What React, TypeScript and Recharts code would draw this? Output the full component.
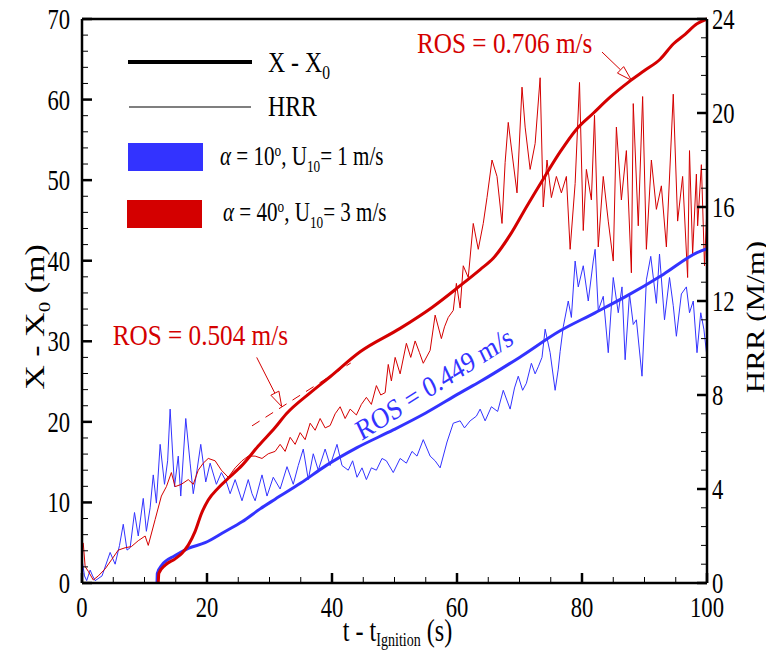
import React from 'react';
import { LineChart, Line, XAxis, YAxis, ReferenceLine, ReferenceDot, Legend } from 'recharts';

const FONT = '"Liberation Serif", "Times New Roman", serif';
const BLUE = '#3333ff';
const RED = '#d40000';
const SX = 0.78; // the reference glyphs are narrow and tall

const W = 766;
const H = 643;
const PLOT = { left: 74, top: 11, right: 699, bottom: 575 };

// axis ticks
const timeTicks = [0, 5, 10, 15, 20, 25, 30, 35, 40, 45, 50, 55, 60, 65, 70, 75, 80, 85, 90, 95, 100];
const distTicks = [0, 2, 4, 6, 8, 10, 12, 14, 16, 18, 20, 22, 24, 26, 28, 30, 32, 34, 36, 38, 40, 42, 44, 46, 48, 50, 52, 54, 56, 58, 60, 62, 64, 66, 68, 70];
const hrrTicks = [0, 0.8, 1.6, 2.4, 3.2, 4, 4.8, 5.6, 6.4, 7.2, 8, 8.8, 9.6, 10.4, 11.2, 12, 12.8, 13.6, 14.4, 15.2, 16, 16.8, 17.6, 18.4, 19.2, 20, 20.8, 21.6, 22.4, 23.2, 24];

type Pt = [number, number];

// front position X - X0 (m), [t, value]
const blueX: Pt[] = [
  [12, 0], [12.05, 1.2], [12.75, 2.2], [14.9, 3.4], [17, 4.3], [19.7, 5.0], [22.9, 6.4], [25.6, 7.6],
  [28.5, 9.2], [30.9, 10.4], [35, 12.4], [39.1, 14.6], [44, 16.8], [49.8, 19.0], [55, 21.1], [60.5, 23.6],
  [63.7, 25.0], [70, 28.0], [76.5, 31.3], [82, 33.5], [87.1, 35.6], [93, 38.3], [98.4, 41.0], [100, 41.5],
];

const redX: Pt[] = [
  [12.2, 0], [12.3, 1.2], [13.3, 2.2], [14.9, 3.0], [16, 3.7], [17, 4.7], [18.1, 6.4], [19.1, 8.6],
  [20.2, 10.3], [21.8, 11.8], [23.4, 13.0], [25.6, 14.6], [28.2, 17.0], [30.9, 19.3], [32.7, 21.0],
  [36.5, 23.6], [39.7, 25.6], [44.5, 28.7], [50.9, 31.6], [56, 34.2], [60.5, 36.9], [63.7, 38.9],
  [65.8, 40.3], [68.5, 43.2], [71.2, 46.8], [74, 50.4], [76.5, 53.5], [79, 56.2], [81.8, 58.3],
  [84.5, 60.3], [87.5, 62.2], [90, 63.6], [92.5, 65.0], [94.6, 66.9], [96.5, 68.1], [98.4, 69.4], [100, 70],
];

// heat release rate HRR (M/m), [t, value]
const blueHrr: Pt[] = [
  [0, 1.0], [0.4, 0.3], [0.75, 0.1], [1.3, 0.55], [1.7, 0.3], [2.1, 0.1], [3.2, 0.3], [4.5, 1.3], [5.3, 0.8],
  [6.0, 1.6], [6.6, 2.5], [7.2, 1.4], [7.7, 1.5], [8.4, 3.0], [9.0, 2.0], [9.8, 3.6], [10.3, 2.2], [10.9, 3.2],
  [11.4, 4.6], [11.9, 3.4], [12.5, 5.9], [13.2, 4.2], [13.7, 5.2], [14.1, 7.4], [14.8, 4.1], [15.4, 5.4],
  [15.8, 3.7], [16.6, 7.0], [17.3, 5.1], [17.8, 3.8], [18.4, 4.8], [19.0, 5.9], [19.8, 4.3], [20.5, 5.1],
  [21.5, 4.2], [22.3, 4.7], [23.1, 4.3], [23.7, 3.8], [24.5, 4.4], [25.6, 3.5], [26.6, 4.4], [27.2, 3.8],
  [27.7, 3.5], [28.8, 4.6], [29.6, 3.7], [30.6, 4.5], [31.7, 4.0], [32.8, 4.95], [33.8, 4.2], [34.6, 5.0],
  [35.4, 5.7], [36.2, 4.4], [37.0, 5.5], [37.8, 4.8], [38.9, 5.7], [39.7, 5.0], [40.8, 5.9], [41.6, 5.0],
  [42.6, 4.8], [43.3, 5.2], [44.0, 4.5], [44.8, 4.9], [45.5, 4.4], [46.3, 4.9], [47.1, 4.8], [48.0, 5.3],
  [48.7, 5.2], [49.8, 4.7], [50.9, 5.3], [51.9, 5.1], [52.8, 5.6], [53.6, 5.4], [54.6, 6.1], [55.7, 5.4],
  [56.5, 5.2], [57.3, 4.9], [58.4, 6.0], [59.4, 6.8], [60.5, 6.9], [61.2, 6.6], [62.1, 6.9], [63.1, 7.1],
  [63.7, 7.4], [64.5, 6.9], [65.5, 7.5], [66.5, 7.3], [67.4, 8.2], [68.5, 7.4], [69.2, 8.3], [69.8, 8.8],
  [70.5, 8.2], [71.1, 8.5], [71.9, 9.35], [72.5, 8.9], [73.0, 9.2], [73.6, 9.6], [74.1, 10.8], [74.9, 9.8],
  [75.7, 8.2], [76.2, 9.1], [76.5, 9.85], [77.0, 10.9], [77.8, 12.0], [78.3, 11.3], [78.9, 13.7], [79.4, 12.6],
  [80.2, 13.5], [81.0, 12.0], [81.8, 13.7], [82.1, 14.2], [82.6, 11.6], [83.4, 12.2], [84.2, 9.8], [85.0, 13.0],
  [85.8, 11.5], [86.4, 12.6], [86.9, 9.5], [87.6, 12.3], [88.2, 11.0], [88.7, 11.2], [89.6, 8.8], [90.3, 12.9],
  [91.0, 13.9], [91.9, 11.9], [92.4, 14.0], [93.2, 11.2], [94.0, 13.0], [94.6, 11.8], [95.1, 10.5], [95.9, 12.3],
  [96.7, 12.6], [97.2, 11.5], [97.8, 12.0], [98.4, 9.8], [99.0, 11.5], [99.5, 10.8], [100, 9.6],
];

const redHrr: Pt[] = [
  [0, 1.7], [0.2, 1.7], [0.5, 0.7], [1.0, 0.5], [1.8, 0.13], [2.6, 0.3], [3.7, 0.6], [4.75, 1.0], [5.8, 1.4],
  [6.9, 1.5], [7.9, 1.55], [9.0, 1.8], [10.1, 2.0], [10.6, 1.6], [11.7, 2.7], [12.7, 3.7], [13.5, 4.1],
  [14.3, 4.7], [14.9, 4.1], [15.9, 4.2], [17.0, 4.4], [17.8, 4.2], [18.6, 4.8], [19.4, 5.1], [20.2, 5.3],
  [21.3, 5.2], [22.3, 4.8], [23.4, 4.5], [24.5, 4.9], [25.6, 5.2], [26.6, 5.4], [27.7, 5.4], [28.8, 5.3],
  [29.8, 5.5], [30.9, 5.6], [31.7, 5.9], [32.5, 5.6], [33.3, 6.2], [34.1, 5.9], [34.9, 6.4], [35.7, 6.1],
  [36.5, 6.8], [37.3, 6.5], [38.1, 7.0], [38.9, 6.6], [39.7, 6.7], [40.5, 7.2], [41.3, 7.5], [42.1, 7.0],
  [42.9, 7.4], [43.9, 7.15], [44.7, 7.6], [45.5, 7.9], [46.3, 7.6], [47.1, 8.4], [47.8, 8.0], [48.5, 8.1],
  [49.0, 9.3], [49.5, 8.6], [50.1, 9.6], [50.9, 8.9], [51.9, 10.2], [52.6, 9.6], [53.3, 10.3], [54.0, 9.8],
  [54.6, 9.35], [55.7, 9.9], [56.5, 11.4], [57.5, 10.4], [58.0, 10.9], [58.6, 11.3], [59.4, 11.6], [59.9, 12.75],
  [60.5, 11.7], [61.0, 13.5], [61.8, 13.0], [62.6, 15.3], [63.4, 14.2], [64.2, 15.3], [64.8, 16.4], [65.6, 18.0],
  [66.4, 17.3], [67.2, 15.3], [67.7, 17.9], [68.2, 19.6], [68.8, 18.3], [69.6, 16.6], [70.4, 21.1], [70.9, 19.4],
  [71.7, 17.6], [72.5, 18.7], [73.3, 21.5], [73.8, 16.0], [74.4, 18.0], [75.1, 16.4], [75.9, 17.3], [76.7, 16.6],
  [77.5, 17.3], [78.1, 14.2], [78.9, 17.0], [79.6, 21.3], [80.2, 15.0], [80.7, 17.6], [81.5, 16.3], [82.0, 19.9],
  [82.6, 14.3], [83.4, 17.3], [84.2, 15.4], [85.0, 13.7], [85.5, 19.4], [86.3, 16.3], [87.1, 18.4], [87.9, 13.2],
  [88.2, 20.4], [89.0, 15.2], [89.7, 20.7], [90.3, 14.2], [91.1, 18.0], [91.9, 15.9], [92.7, 16.9], [93.5, 14.3],
  [94.6, 20.8], [95.3, 15.4], [96.1, 17.3], [96.9, 13.0], [97.2, 18.4], [97.7, 14.0], [98.3, 17.4], [98.5, 15.2],
  [99.1, 17.8], [99.6, 13.5], [100, 16.0],
];

const rows = (pts: Pt[]) => pts.map(([t, v]) => ({ t, v }));

// narrow serif text, optionally rotated
const Txt = ({ x, y, size, anchor = 'start', rotate = 0, fill = '#000', sx = SX, children }: any) => (
  <g transform={`translate(${x},${y}) scale(${sx},1) rotate(${rotate})`}>
    <text x={0} y={0} fontSize={size} fontFamily={FONT} textAnchor={anchor} fill={fill}>
      {children}
    </text>
  </g>
);

const isMajor = (v: number, step: number) => Math.abs(v / step - Math.round(v / step)) < 1e-6;

const BottomTick = (props: any) => {
  const { x, payload } = props;
  const v = payload.value;
  const major = isMajor(v, 20);
  return (
    <g>
      <line x1={x} x2={x} y1={PLOT.bottom} y2={PLOT.bottom - (major ? 10 : 6)} stroke="#000" strokeWidth={major ? 2.5 : 1} />
      {major && <Txt x={x} y={PLOT.bottom + 34} size={29} anchor="middle">{v}</Txt>}
    </g>
  );
};

const LeftTick = (props: any) => {
  const { y, payload } = props;
  const v = payload.value;
  const major = isMajor(v, 10);
  return (
    <g>
      <line x1={PLOT.left} x2={PLOT.left + (major ? 10 : 6)} y1={y} y2={y} stroke="#000" strokeWidth={major ? 2.5 : 1} />
      {major && <Txt x={PLOT.left - 12} y={y + 10} size={29} anchor="end">{v}</Txt>}
    </g>
  );
};

const RightTick = (props: any) => {
  const { y, payload } = props;
  const v = payload.value;
  const major = isMajor(v, 4);
  return (
    <g>
      <line x1={PLOT.right - (major ? 10 : 6)} x2={PLOT.right} y1={y} y2={y} stroke="#000" strokeWidth={major ? 2.5 : 1} />
      {major && <Txt x={PLOT.right + 5} y={y + 10} size={29}>{Math.round(v)}</Txt>}
    </g>
  );
};

const LeftTitle = () => (
  <Txt x={PLOT.left - 38} y={(PLOT.top + PLOT.bottom) / 2 + 16} size={34} anchor="middle" rotate={-90}>
    X - X<tspan dy={8} fontSize={21}>0</tspan>
    <tspan dy={-8}> (m)</tspan>
  </Txt>
);

const RightTitle = () => (
  <Txt x={PLOT.right + 57} y={(PLOT.top + PLOT.bottom) / 2 + 16} size={31} anchor="middle" rotate={-90}>
    HRR (M/m)
  </Txt>
);

const BottomTitle = () => (
  <Txt x={(PLOT.left + PLOT.right) / 2 + 3} y={PLOT.bottom + 58} size={31} anchor="middle">
    t - t<tspan dy={5} fontSize={18}>Ignition</tspan>
    <tspan dy={-5}> (s)</tspan>
  </Txt>
);

const LegendBox = () => (
  <svg width={330} height={200} style={{ overflow: 'visible' }}>
    <line x1={8} x2={132} y1={17} y2={17} stroke="#000" strokeWidth={4} />
    <Txt x={148} y={27} size={29} sx={0.82}>
      X - X<tspan dy={7} fontSize={19}>0</tspan>
    </Txt>
    <line x1={9} x2={131} y1={62} y2={62} stroke="#000" strokeWidth={1.2} />
    <Txt x={148} y={71} size={29} sx={0.82}>HRR</Txt>
    <rect x={8} y={98} width={75} height={28} fill={BLUE} />
    <Txt x={100} y={120} size={27}>
      <tspan fontStyle="italic">α</tspan> = 10<tspan dy={-9} fontSize={17}>o</tspan>
      <tspan dy={9}>, U</tspan>
      <tspan dy={7} fontSize={17}>10</tspan>
      <tspan dy={-7}>= 1 m/s</tspan>
    </Txt>
    <rect x={7} y={155} width={75} height={28} fill={RED} />
    <Txt x={103} y={176} size={27}>
      <tspan fontStyle="italic">α</tspan> = 40<tspan dy={-9} fontSize={17}>o</tspan>
      <tspan dy={9}>, U</tspan>
      <tspan dy={7} fontSize={17}>10</tspan>
      <tspan dy={-7}>= 3 m/s</tspan>
    </Txt>
  </svg>
);

const Arrow = (p: any) => {
  const { x1, y1, x2, y2 } = p;
  const dx = x2 - x1;
  const dy = y2 - y1;
  const len = Math.hypot(dx, dy) || 1;
  const ux = dx / len;
  const uy = dy / len;
  const hl = 15;
  const hw = 4.5;
  const bx = x2 - ux * hl;
  const by = y2 - uy * hl;
  const pts = `${x2},${y2} ${bx - uy * hw},${by + ux * hw} ${bx + uy * hw},${by - ux * hw}`;
  return (
    <g>
      <line x1={x1} y1={y1} x2={bx} y2={by} stroke={RED} strokeWidth={1} />
      <polygon points={pts} fill="#fff" stroke={RED} strokeWidth={1} />
    </g>
  );
};

const label = (text: string, color: string, anchor = 'start', rotate = 0) => (p: any) => (
  <Txt x={p.cx} y={p.cy} size={29} sx={0.87} anchor={anchor} rotate={rotate} fill={color}>{text}</Txt>
);

export default function App() {
  return (
    <div style={{ width: W, height: H }}>
      <LineChart width={W} height={H} margin={{ top: 11, right: 17, bottom: 18, left: 14 }}>
        <XAxis
          type="number"
          dataKey="t"
          domain={[0, 100]}
          ticks={timeTicks}
          interval={0}
          height={50}
          tickLine={false}
          axisLine={{ stroke: '#000', strokeWidth: 2.5 }}
          tick={BottomTick}
          label={{ content: BottomTitle }}
        />
        <YAxis
          yAxisId="x"
          type="number"
          domain={[0, 70]}
          ticks={distTicks}
          interval={0}
          width={60}
          tickLine={false}
          axisLine={{ stroke: '#000', strokeWidth: 2.5 }}
          tick={LeftTick}
          label={{ content: LeftTitle }}
        />
        <YAxis
          yAxisId="hrr"
          orientation="right"
          type="number"
          domain={[0, 24]}
          ticks={hrrTicks}
          interval={0}
          width={50}
          tickLine={false}
          axisLine={{ stroke: '#000', strokeWidth: 2.5 }}
          tick={RightTick}
          label={{ content: RightTitle }}
        />
        <ReferenceLine yAxisId="x" y={70} stroke="#000" strokeWidth={2.5} />

        {/* heat release rate, thin */}
        <Line yAxisId="hrr" data={rows(blueHrr)} dataKey="v" type="linear" stroke={BLUE} strokeWidth={1} dot={false} isAnimationActive={false} />
        <Line yAxisId="hrr" data={rows(redHrr)} dataKey="v" type="linear" stroke={RED} strokeWidth={1} dot={false} isAnimationActive={false} />

        {/* front position, thick */}
        <Line yAxisId="x" data={rows(blueX)} dataKey="v" type="monotone" stroke={BLUE} strokeWidth={3} dot={false} isAnimationActive={false} />
        <Line yAxisId="x" data={rows(redX)} dataKey="v" type="monotone" stroke={RED} strokeWidth={3} dot={false} isAnimationActive={false} />

        {/* ROS annotations */}
        <ReferenceLine yAxisId="x" segment={[{ x: 27.2, y: 19.5 }, { x: 43, y: 27.3 }]} stroke={RED} strokeWidth={1} strokeDasharray="9 7" />
        <ReferenceLine yAxisId="x" segment={[{ x: 27.95, y: 28.0 }, { x: 31.95, y: 21.9 }]} shape={Arrow} />
        <ReferenceLine yAxisId="x" segment={[{ x: 83.2, y: 65.9 }, { x: 87.9, y: 62.4 }]} shape={Arrow} />
        <ReferenceDot yAxisId="x" x={4.9} y={29.5} r={1} shape={label('ROS = 0.504 m/s', RED)} />
        <ReferenceDot yAxisId="x" x={53.6} y={65.8} r={1} shape={label('ROS = 0.706 m/s', RED)} />
        <ReferenceDot yAxisId="x" x={57.0} y={23.7} r={1} shape={label('ROS = 0.449 m/s', BLUE, 'middle', -29)} />

        <Legend
          layout="vertical"
          align="center"
          verticalAlign="middle"
          wrapperStyle={{ position: 'absolute', top: 37, left: 112, width: 330, height: 200 }}
          content={() => <LegendBox />}
        />
      </LineChart>
    </div>
  );
}
